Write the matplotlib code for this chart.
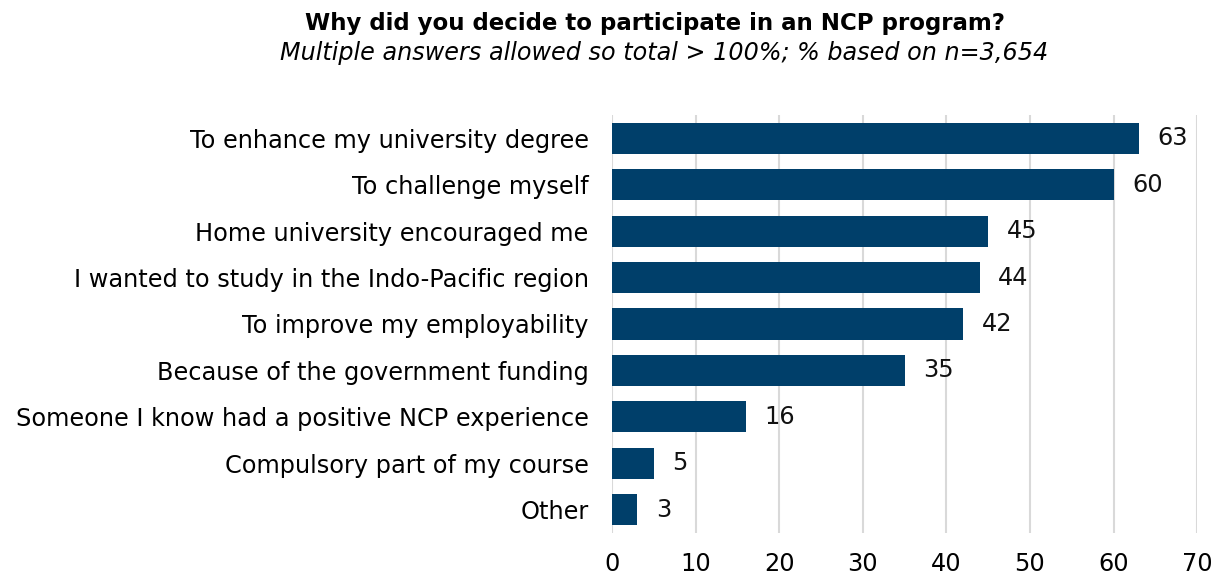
import matplotlib.pyplot as plt

categories = [
    "To enhance my university degree",
    "To challenge myself",
    "Home university encouraged me",
    "I wanted to study in the Indo-Pacific region",
    "To improve my employability",
    "Because of the government funding",
    "Someone I know had a positive NCP experience",
    "Compulsory part of my course",
    "Other",
]
values = [63, 60, 45, 44, 42, 35, 16, 5, 3]
xticks = [0, 10, 20, 30, 40, 50, 60, 70]

bar_color = "#003F6A"

fig = plt.figure(figsize=(12.28, 5.77), dpi=100)
ax = fig.add_axes([0.4986, 0.0763, 0.4762, 0.7244])

pos = list(range(len(categories)))
ax.barh(pos, values, height=0.67, color=bar_color, zorder=3)
for p, v in zip(pos, values):
    ax.text(v + 2.2, p, str(v), va="center", ha="left", fontsize=17.3, color="#111111")

ax.set_ylim(len(categories) - 0.5, -0.5)
ax.set_xlim(0, 70)
ax.set_yticks(pos)
ax.set_yticklabels(categories, fontsize=17.3)
ax.set_xticks(xticks)
ax.set_xticklabels([str(t) for t in xticks], fontsize=17.3)
ax.tick_params(axis="both", length=0)
ax.tick_params(axis="y", pad=17)
ax.tick_params(axis="x", pad=14)
ax.grid(axis="x", color="#D9D9D9", linewidth=1.5, zorder=0)
for s in ax.spines.values():
    s.set_visible(False)

fig.text(0.533, 0.959, "Why did you decide to participate in an NCP program?",
         ha="center", va="center", fontsize=16.5, fontweight="bold")
fig.text(0.541, 0.908, "Multiple answers allowed so total > 100%; % based on n=3,654",
         ha="center", va="center", fontsize=17.2, style="italic")

fig.savefig("out.png", dpi=100)
